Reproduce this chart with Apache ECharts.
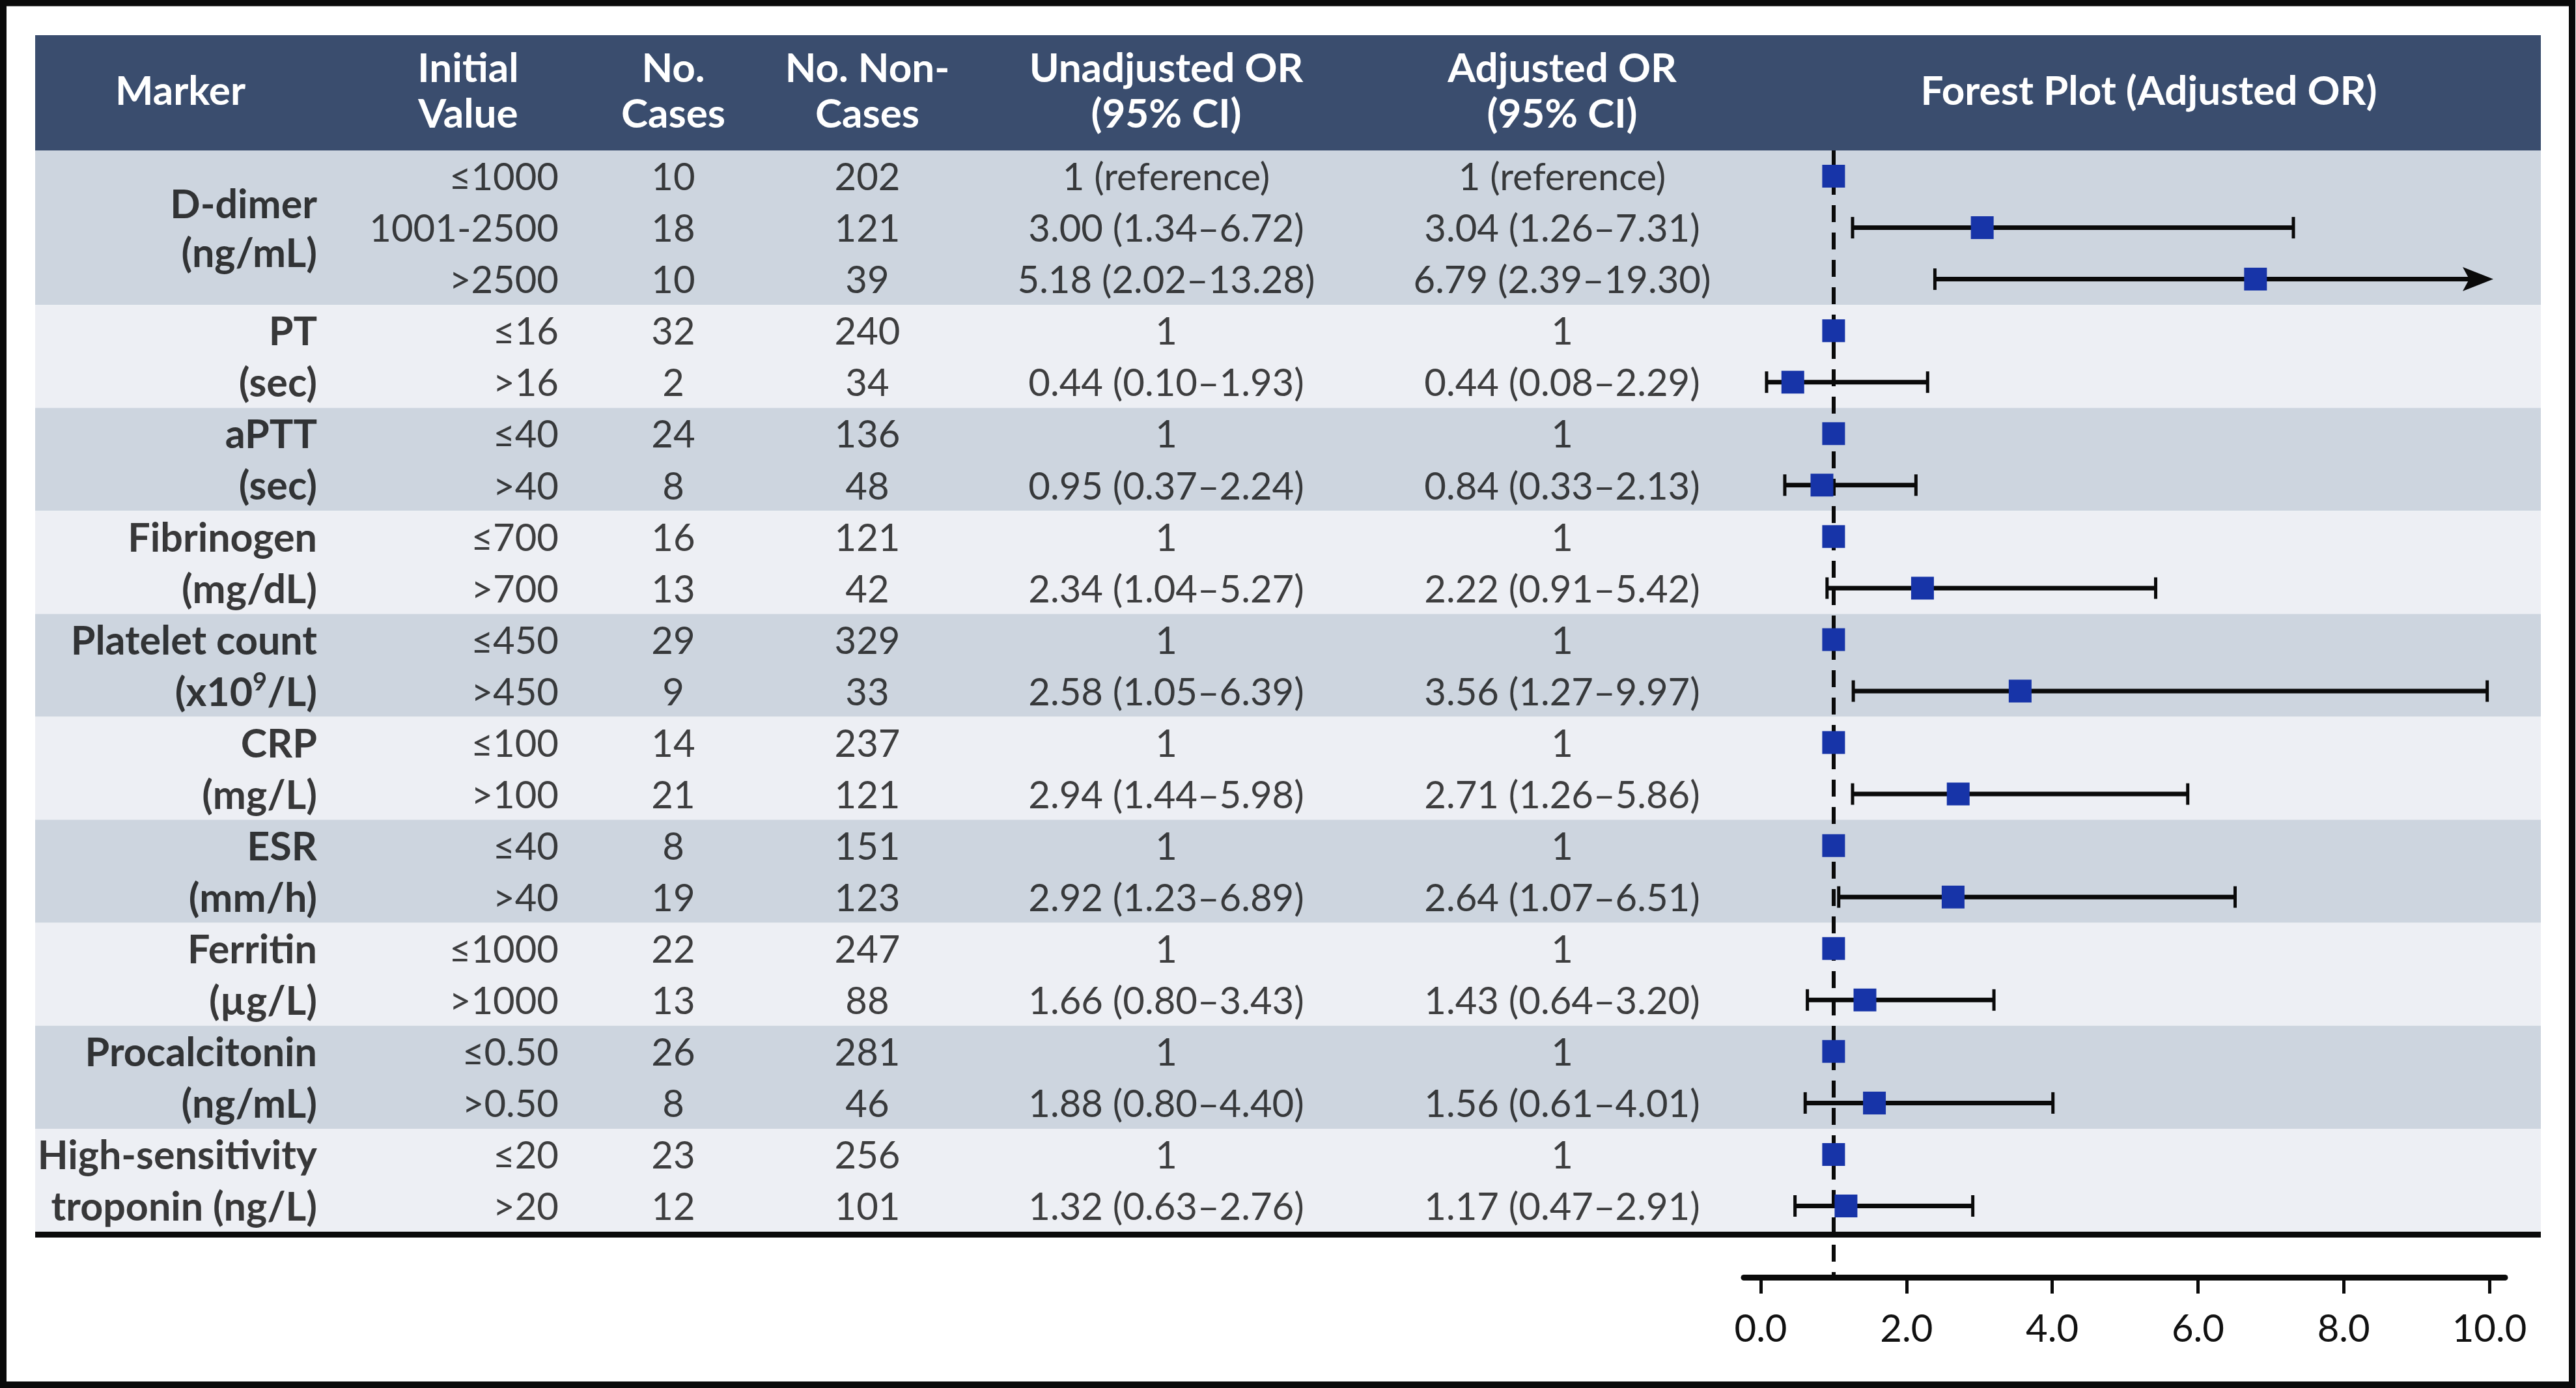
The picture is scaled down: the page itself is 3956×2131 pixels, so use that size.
<!DOCTYPE html>
<html>
<head>
<meta charset="utf-8">
<script src="https://cdn.jsdelivr.net/npm/echarts@6/dist/echarts.min.js"></script>
<style>
html,body{margin:0;padding:0;background:#ffffff;}
#chart{width:3956px;height:2131px;}
</style>
</head>
<body>
<div id="chart"></div>
<script>
// ---------------- DATA ----------------
const markerNames = ["D-dimer", "PT", "aPTT", "Fibrinogen", "Platelet count", "CRP", "ESR", "Ferritin", "Procalcitonin", "High-sensitivity"];
const markerUnits = ["(ng/mL)", "(sec)", "(sec)", "(mg/dL)", "(x10{sup|9}/L)", "(mg/L)", "(mm/h)", "(\u00b5g/L)", "(ng/mL)", "troponin (ng/L)"];
const groupSizes = [3, 2, 2, 2, 2, 2, 2, 2, 2, 2];
const initialValues = ["\u22641000", "1001-2500", ">2500", "\u226416", ">16", "\u226440", ">40", "\u2264700", ">700", "\u2264450", ">450", "\u2264100", ">100", "\u226440", ">40", "\u22641000", ">1000", "\u22640.50", ">0.50", "\u226420", ">20"];
const noCases = [10, 18, 10, 32, 2, 24, 8, 16, 13, 29, 9, 14, 21, 8, 19, 22, 13, 26, 8, 23, 12];
const noNonCases = [202, 121, 39, 240, 34, 136, 48, 121, 42, 329, 33, 237, 121, 151, 123, 247, 88, 281, 46, 256, 101];
const unadjOR   = [1, 3.00, 5.18, 1, 0.44, 1, 0.95, 1, 2.34, 1, 2.58, 1, 2.94, 1, 2.92, 1, 1.66, 1, 1.88, 1, 1.32];
const unadjLow  = [null, 1.34, 2.02, null, 0.10, null, 0.37, null, 1.04, null, 1.05, null, 1.44, null, 1.23, null, 0.80, null, 0.80, null, 0.63];
const unadjHigh = [null, 6.72, 13.28, null, 1.93, null, 2.24, null, 5.27, null, 6.39, null, 5.98, null, 6.89, null, 3.43, null, 4.40, null, 2.76];
const adjOR     = [1, 3.04, 6.79, 1, 0.44, 1, 0.84, 1, 2.22, 1, 3.56, 1, 2.71, 1, 2.64, 1, 1.43, 1, 1.56, 1, 1.17];
const adjLow    = [null, 1.26, 2.39, null, 0.08, null, 0.33, null, 0.91, null, 1.27, null, 1.26, null, 1.07, null, 0.64, null, 0.61, null, 0.47];
const adjHigh   = [null, 7.31, 19.30, null, 2.29, null, 2.13, null, 5.42, null, 9.97, null, 5.86, null, 6.51, null, 3.20, null, 4.01, null, 2.91];
const headerLabels = ["Marker", "Initial\nValue", "No.\nCases", "No. Non-\nCases", "Unadjusted OR\n(95% CI)", "Adjusted OR\n(95% CI)", "Forest Plot (Adjusted OR)"];
const xTicks = [0, 2, 4, 6, 8, 10];
const referenceOR = 1;
const axisShownMax = 10;

// ---------------- LAYOUT / STYLE ----------------
const W = 3956, H = 2131;
const tableLeft = 54, tableRight = 3902;
const headerTop = 54, bodyTop = 231, axisY = 1961;
const nRows = initialValues.length;
const rowH = 1660 / nRows;
const yMinAll = -0.5 - (bodyTop - headerTop) / rowH;
const yMax = -0.5 + (axisY - bodyTop) / rowH;
const forestLeftPx = 2678, forestRightPx = 3847, zeroPx = 2704, tenPx = 3823;
const pxPerUnit = (tenPx - zeroPx) / 10;
const forestMin = (forestLeftPx - zeroPx) / pxPerUnit;
const forestMax = (forestRightPx - zeroPx) / pxPerUnit;
const colX = { marker: 487, initial: 858, cases: 1034, nonCases: 1332, unadj: 1791, adj: 2399 };
const headerX = [277, 719, 1034, 1332, 1791, 2399, 3300];
const headerCY = 141;
const FONT = 'Lato, "Open Sans", sans-serif';
const FS = 58, FS_MARKER = 61, FS_HEADER = 62;
const TEXT_DY = 3;
const colors = { header: '#3a4d6e', dark: '#cdd5df', light: '#edeff4', square: '#1734a8', ink: '#111111' };
const HIDDEN = 'rgba(0,0,0,0)';

function fmtOR(i, v, lo, hi) {
  if (lo == null) return i === 0 ? '1 (reference)' : '1';
  return v.toFixed(2) + ' (' + lo.toFixed(2) + '\u2013' + hi.toFixed(2) + ')';
}

const groupStarts = [];
{ let s = 0; groupSizes.forEach(n => { groupStarts.push(s); s += n; }); }

const bandData = groupSizes.map((n, g) => [groupStarts[g], groupStarts[g] + n - 1, g % 2]);

function textSeries(name, x, texts, align) {
  return {
    name: name, type: 'scatter', xAxisIndex: 0, yAxisIndex: 0,
    symbolSize: 1, itemStyle: { color: HIDDEN }, silent: true, z: 5,
    label: { show: true, position: 'inside', align: align, verticalAlign: 'middle', offset: [0, TEXT_DY],
             formatter: '{b}', fontFamily: FONT, fontSize: FS, color: colors.ink },
    data: texts.map((t, i) => ({ name: String(t), value: [x, i] }))
  };
}

function markerRich(lh) {
  return {
    b: { fontFamily: FONT, fontSize: FS_MARKER, fontWeight: 'bold', color: '#0a0a0a', lineHeight: lh },
    sup: { fontFamily: FONT, fontSize: 38, fontWeight: 'bold', color: '#0a0a0a', verticalAlign: 'top', lineHeight: lh, padding: [4, 0, 0, 0] }
  };
}

const markerData = markerNames.map((m, g) => {
  const lh = groupSizes[g] === 2 ? rowH : 75;
  return {
    name: m,
    value: [colX.marker, groupStarts[g] + (groupSizes[g] - 1) / 2],
    label: { lineHeight: lh, rich: markerRich(lh),
             formatter: '{b|' + m + '}\n{b|' + markerUnits[g].replace(/\{sup\|9\}/, '}{sup|9}{b|') + '}' }
  };
});

const errData = [];
adjOR.forEach((v, i) => { if (adjLow[i] != null) errData.push([i, adjLow[i], adjHigh[i]]); });

const option = {
  animation: false,
  backgroundColor: '#ffffff',
  grid: [
    { left: 0, right: 0, top: headerTop, bottom: H - axisY, containLabel: false },
    { left: forestLeftPx, right: W - forestRightPx, top: bodyTop, bottom: H - axisY, containLabel: false }
  ],
  xAxis: [
    { gridIndex: 0, type: 'value', min: 0, max: W, show: false },
    { gridIndex: 1, type: 'value', min: forestMin, max: forestMax, position: 'bottom',
      splitLine: { show: false },
      axisLine: { show: true, onZero: false, lineStyle: { color: '#0a0a0a', width: 9 } },
      axisTick: { show: true, customValues: xTicks, length: 25, lineStyle: { color: '#0a0a0a', width: 5 } },
      axisLabel: { show: true, customValues: xTicks, margin: 51, formatter: v => Number(v).toFixed(1),
                   fontFamily: FONT, fontSize: FS, color: colors.ink } }
  ],
  yAxis: [
    { gridIndex: 0, type: 'value', inverse: true, min: yMinAll, max: yMax, show: false },
    { gridIndex: 1, type: 'value', inverse: true, min: -0.5, max: yMax, show: false }
  ],
  graphic: [
    { type: 'rect', z: 100, silent: true,
      shape: { x: 5, y: 4.5, width: W - 11, height: H - 9.5 },
      style: { fill: null, stroke: '#0a0a0a', lineWidth: 10 } }
  ].concat(headerLabels.map((t, k) => ({
    type: 'text', z: 50, silent: true, x: headerX[k], y: headerCY,
    style: { text: t, fill: '#ffffff', fontFamily: FONT, fontWeight: 'bold', fontSize: FS_HEADER,
             lineHeight: 70, align: 'center', verticalAlign: 'middle' }
  }))),
  series: [
    { type: 'custom', xAxisIndex: 0, yAxisIndex: 0, silent: true, z: 1,
      data: bandData.concat([[yMinAll + 0.5, -1, 2], [nRows, nRows, 3]]),
      renderItem: function (params, api) {
        const s = api.value(0), e = api.value(1), c = api.value(2);
        if (c === 3) {
          const p = api.coord([tableLeft, s - 0.5]);
          const q = api.coord([tableRight, s - 0.5]);
          return { type: 'rect', shape: { x: p[0], y: p[1], width: q[0] - p[0], height: 9 }, style: { fill: '#0a0a0a' } };
        }
        const p = api.coord([tableLeft, s - 0.5]);
        const q = api.coord([tableRight, e + 0.5]);
        const fill = c === 2 ? colors.header : (c === 0 ? colors.dark : colors.light);
        return { type: 'rect', shape: { x: p[0], y: p[1], width: q[0] - p[0], height: q[1] - p[1] }, style: { fill: fill } };
      }
    },
    { name: 'marker', type: 'scatter', xAxisIndex: 0, yAxisIndex: 0, symbolSize: 1, itemStyle: { color: HIDDEN }, silent: true, z: 5,
      label: { show: true, position: 'inside', align: 'right', verticalAlign: 'middle', offset: [0, TEXT_DY],
               fontFamily: FONT, fontSize: FS_MARKER, fontWeight: 'bold', color: '#0a0a0a', lineHeight: rowH,
               rich: markerRich(rowH) },
      data: markerData },
    textSeries('initial', colX.initial, initialValues, 'right'),
    textSeries('cases', colX.cases, noCases, 'center'),
    textSeries('noncases', colX.nonCases, noNonCases, 'center'),
    textSeries('unadj', colX.unadj, unadjOR.map((v, i) => fmtOR(i, v, unadjLow[i], unadjHigh[i])), 'center'),
    textSeries('adj', colX.adj, adjOR.map((v, i) => fmtOR(i, v, adjLow[i], adjHigh[i])), 'center'),
    { type: 'custom', xAxisIndex: 1, yAxisIndex: 1, silent: true, z: 6, clip: false,
      encode: { x: [1, 2], y: 0 },
      data: errData,
      renderItem: function (params, api) {
        const y = api.value(0), lo = api.value(1), hi = api.value(2);
        const over = hi > axisShownMax;
        const p1 = api.coord([lo, y]);
        const p2 = api.coord([over ? axisShownMax : hi, y]);
        const st = { stroke: '#0a0a0a', lineWidth: 7 };
        const cap = { stroke: '#0a0a0a', lineWidth: 5 };
        const ch = [
          { type: 'line', shape: { x1: p1[0], y1: p1[1], x2: p2[0] - (over ? 20 : 0), y2: p2[1] }, style: st },
          { type: 'line', shape: { x1: p1[0], y1: p1[1] - 16.5, x2: p1[0], y2: p1[1] + 16.5 }, style: cap }
        ];
        if (over) {
          const tx = p2[0] + 6, ty = p2[1];
          ch.push({ type: 'polygon', shape: { points: [[tx, ty], [tx - 47, ty - 18.5], [tx - 37, ty], [tx - 47, ty + 18.5]] }, style: { fill: '#0a0a0a' } });
        } else {
          ch.push({ type: 'line', shape: { x1: p2[0], y1: p2[1] - 16.5, x2: p2[0], y2: p2[1] + 16.5 }, style: cap });
        }
        return { type: 'group', children: ch };
      },
      markLine: { silent: true, symbol: ['none', 'none'], label: { show: false },
        lineStyle: { type: [26, 16], width: 6, color: '#0a0a0a' },
        data: [{ xAxis: referenceOR }] }
    },
    { type: 'scatter', xAxisIndex: 1, yAxisIndex: 1, silent: true, z: 8,
      symbol: 'rect', symbolSize: 35, itemStyle: { color: colors.square, opacity: 1 },
      data: adjOR.map((v, i) => [v, i]) }
  ]
};

const chart = echarts.init(document.getElementById('chart'), null, { renderer: 'canvas', width: W, height: H });
chart.setOption(option);
</script>
</body>
</html>
